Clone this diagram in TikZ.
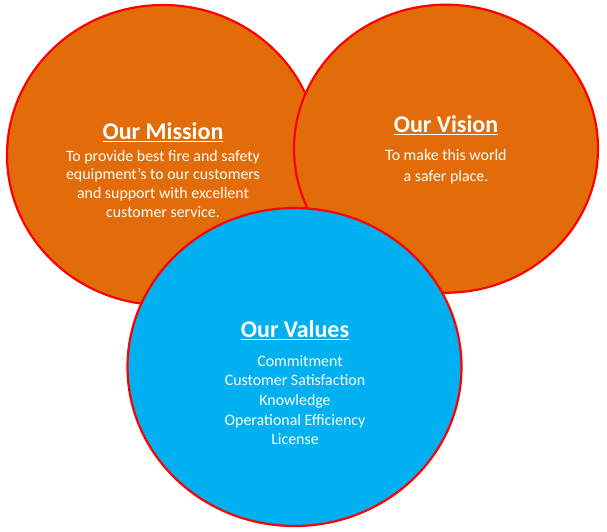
\documentclass[tikz,border=0pt]{standalone}
\usepackage{fontspec}
\setmainfont{Carlito}
\definecolor{orangefill}{HTML}{E36C0A}
\definecolor{bluefill}{HTML}{00B0F0}
\definecolor{ringred}{HTML}{FF0000}
\tikzset{
  bubble/.style={draw=ringred, line width=2.2pt},
  heading/.style={text=white, font=\fontsize{24}{28}\selectfont\bfseries, anchor=base, inner sep=0pt},
  body/.style={text=white, font=\fontsize{15.9}{18.7}\selectfont, anchor=base, align=center, inner sep=0pt},
}
\begin{document}
\begin{tikzpicture}[x=1pt,y=1pt]
\useasboundingbox (0,0) rectangle (607,-531);
\draw[bubble, fill=orangefill] (163,-155) ellipse [x radius=156, y radius=150];
\draw[bubble, fill=orangefill] (446,-148.7) ellipse [x radius=152, y radius=144];
\draw[bubble, fill=bluefill] (294.5,-367) ellipse [x radius=167, y radius=159];
\node[heading] (mh) at (163,-139.3) {\underline{Our Mission}};
\node[body] (mb) at (163,-217.1) {To provide best fire and safety\\equipment{\char"0027}s to our customers\\and support with excellent\\customer service.};
\node[heading] (vh) at (446,-132.7) {\underline{Our Vision}};
\node[body, font=\fontsize{15.9}{21}\selectfont] (vb) at (446,-181.7) {To make this world\\a safer place.};
\node[heading] (valh) at (295,-337.3) {\underline{Our Values}};
\node[body, font=\fontsize{15.9}{19.7}\selectfont] (valb) at (295,-444.8) {\hspace*{10pt}Commitment\\Customer Satisfaction\\Knowledge\\Operational Efficiency\\License};
\end{tikzpicture}
\end{document}
